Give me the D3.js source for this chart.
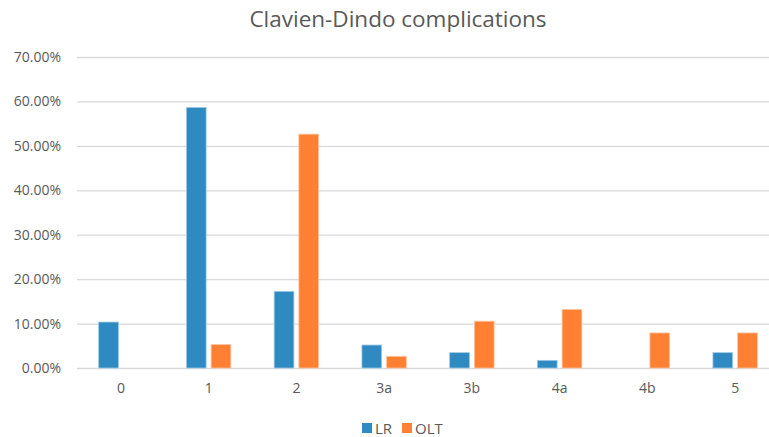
<!DOCTYPE html>
<html>
<head>
<meta charset="utf-8">
<script src="https://cdn.jsdelivr.net/npm/d3@7"></script>
<style>
  body { margin: 0; background: #fff; }
  text { font-family: "Open Sans", "Liberation Sans", sans-serif; fill: #595959; }
</style>
</head>
<body>
<div class="chart"></div>
<script>
var categories = ["0", "1", "2", "3a", "3b", "4a", "4b", "5"];
var seriesNames = ["LR", "OLT"];
var lrValues = [10.34, 58.62, 17.24, 5.17, 3.45, 1.72, 0, 3.45];
var oltValues = [0, 5.26, 52.63, 2.63, 10.53, 13.16, 7.89, 7.89];
var yTicks = [0, 10, 20, 30, 40, 50, 60, 70];
var colors = ["#2E8AC1", "#FF7F33"];

var svgWidth = 769;
var svgHeight = 437;

var svg = d3.select(".chart")
    .append("svg")
    .attr("width", svgWidth)
    .attr("height", svgHeight);

// plot area runs past the right edge of the picture, as in the reference
var xScale = d3.scaleBand().domain(categories).range([77, 779]);
var yScale = d3.scaleLinear().domain([0, 70]).range([368, 57]);

// title
svg.append("text")
    .attr("x", 398)
    .attr("y", 27)
    .attr("text-anchor", "middle")
    .attr("font-size", "22.5px")
    .text("Clavien-Dindo complications");

// gridlines + y labels
var yAxis = d3.axisLeft(yScale)
    .tickValues(yTicks)
    .tickSize(-(779 - 77))
    .tickPadding(16)
    .tickFormat(function (d) { return d.toFixed(2) + "%"; });

var gy = svg.append("g")
    .attr("transform", "translate(77,0)")
    .call(yAxis);
gy.select(".domain").remove();
gy.selectAll("line").attr("stroke", "#d9d9d9").attr("stroke-width", 1.3);
gy.selectAll("text").attr("font-size", "14px").attr("fill", "#595959")
    .attr("font-family", "Open Sans, sans-serif");

// bars
var barW = 19.7;
var gap = 5;
var data = categories.map(function (c, i) {
    return { cat: c, vals: [lrValues[i], oltValues[i]] };
});

var groups = svg.selectAll(".grp")
    .data(data)
    .enter()
    .append("g")
    .attr("class", "grp");

groups.selectAll("rect")
    .data(function (d) { return d.vals.map(function (v, j) { return { cat: d.cat, v: v, j: j }; }); })
    .enter()
    .append("rect")
    .filter(function (d) { return d.v > 0; })
    .attr("x", function (d) {
        var c = xScale(d.cat) + xScale.bandwidth() / 2;
        return d.j === 0 ? c - gap / 2 - barW : c + gap / 2;
    })
    .attr("y", function (d) { return yScale(d.v); })
    .attr("width", barW)
    .attr("height", function (d) { return yScale(0) - yScale(d.v); })
    .attr("fill", function (d) { return colors[d.j]; })
    .attr("stroke", function (d) { return d.j === 0 ? "#9cc7e3" : "#ffc39e"; })
    .attr("stroke-width", 0.8);

// x labels
var xAxis = d3.axisBottom(xScale).tickSize(0).tickPadding(15);
var gx = svg.append("g")
    .attr("transform", "translate(0,368)")
    .call(xAxis);
gx.select(".domain").remove();
gx.selectAll("text").attr("font-size", "14px").attr("fill", "#595959")
    .attr("font-family", "Open Sans, sans-serif");

// legend
var legendX = [362, 402];
var legend = svg.selectAll(".leg")
    .data(seriesNames)
    .enter()
    .append("g")
    .attr("class", "leg")
    .attr("transform", function (d, i) { return "translate(" + legendX[i] + ",423)"; });
legend.append("rect")
    .attr("width", 10)
    .attr("height", 10)
    .attr("fill", function (d, i) { return colors[i]; });
legend.append("text")
    .attr("x", 13)
    .attr("y", 10.5)
    .attr("font-size", "15px")
    .text(function (d) { return d; });
</script>
</body>
</html>
